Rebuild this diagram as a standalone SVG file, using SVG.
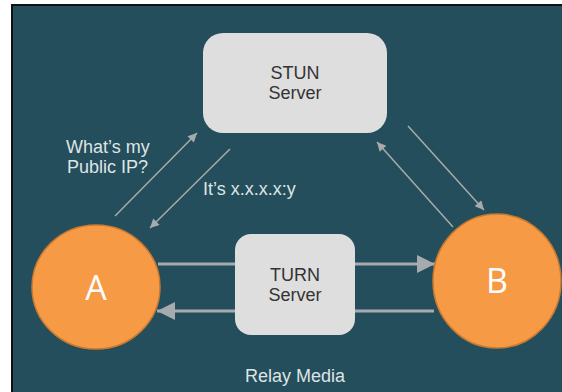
<svg xmlns="http://www.w3.org/2000/svg" width="562" height="392" viewBox="0 0 562 392">
<style>
.box{fill:#dedede}
.boxtxt{font-family:"Liberation Sans",Arial,sans-serif;font-size:18px;fill:#333;text-anchor:middle}
.lbl{font-family:"Liberation Sans",Arial,sans-serif;font-size:18px;fill:#dfe4e5}
.peer{fill:#f79a45;stroke:#c97a30;stroke-width:1.5}
.peertxt{font-family:"Open Sans","Liberation Sans",sans-serif;font-size:34px;fill:#fff;text-anchor:middle}
.thick{stroke:#a7abad;stroke-width:3;fill:none}
.thin{stroke:#a7abad;stroke-width:1.5;fill:none}
</style>
<defs>
<marker id="big" viewBox="0 0 10 10" refX="10" refY="5" markerWidth="6" markerHeight="6" markerUnits="strokeWidth" orient="auto">
<path d="M0,0 L10,5 L0,10 Z" fill="#a7abad"/>
</marker>
<marker id="sm" viewBox="0 0 10 10" refX="10" refY="5" markerWidth="7" markerHeight="6" markerUnits="strokeWidth" orient="auto">
<path d="M0,0 L10,5 L0,10 Z" fill="#a7abad"/>
</marker>
</defs>
<rect x="0" y="0" width="562" height="392" fill="#ffffff"/>
<rect x="11" y="4" width="551" height="388" fill="#111"/>
<rect x="13" y="6" width="549" height="386" fill="#244e5c"/>
<g id="connectors">
<line class="thick" x1="158" y1="264" x2="240" y2="264"/>
<line class="thick" x1="350" y1="264" x2="435" y2="264" marker-end="url(#big)"/>
<line class="thick" x1="434" y1="311" x2="350" y2="311"/>
<line class="thick" x1="240" y1="311" x2="157" y2="311" marker-end="url(#big)"/>
<line class="thin" x1="115" y1="216" x2="197" y2="133" marker-end="url(#sm)"/>
<line class="thin" x1="230" y1="149" x2="150" y2="228" marker-end="url(#sm)"/>
<line class="thin" x1="453" y1="227" x2="377" y2="142" marker-end="url(#sm)"/>
<line class="thin" x1="408" y1="126" x2="484" y2="210" marker-end="url(#sm)"/>
</g>
<g id="stun">
<rect class="box" x="203" y="33" width="184" height="100" rx="20"/>
<text class="boxtxt" x="295" y="79">STUN</text>
<text class="boxtxt" x="295" y="99">Server</text>
</g>
<g id="turn">
<rect class="box" x="235" y="234" width="120" height="101" rx="16"/>
<text class="boxtxt" x="295" y="281">TURN</text>
<text class="boxtxt" x="295" y="301">Server</text>
</g>
<g id="peerA">
<ellipse class="peer" cx="96" cy="287" rx="64" ry="62"/>
<text class="peertxt" x="96" y="300">A</text>
</g>
<g id="peerB">
<ellipse class="peer" cx="497" cy="281" rx="64" ry="67"/>
<text class="peertxt" x="497" y="293">B</text>
</g>
<g id="labels">
<text class="lbl" x="66" y="153">What’s my</text>
<text class="lbl" x="67" y="173">Public IP?</text>
<text class="lbl" x="203" y="195">It’s x.x.x.x:y</text>
<text class="lbl" x="295" y="382" text-anchor="middle">Relay Media</text>
</g>
</svg>
